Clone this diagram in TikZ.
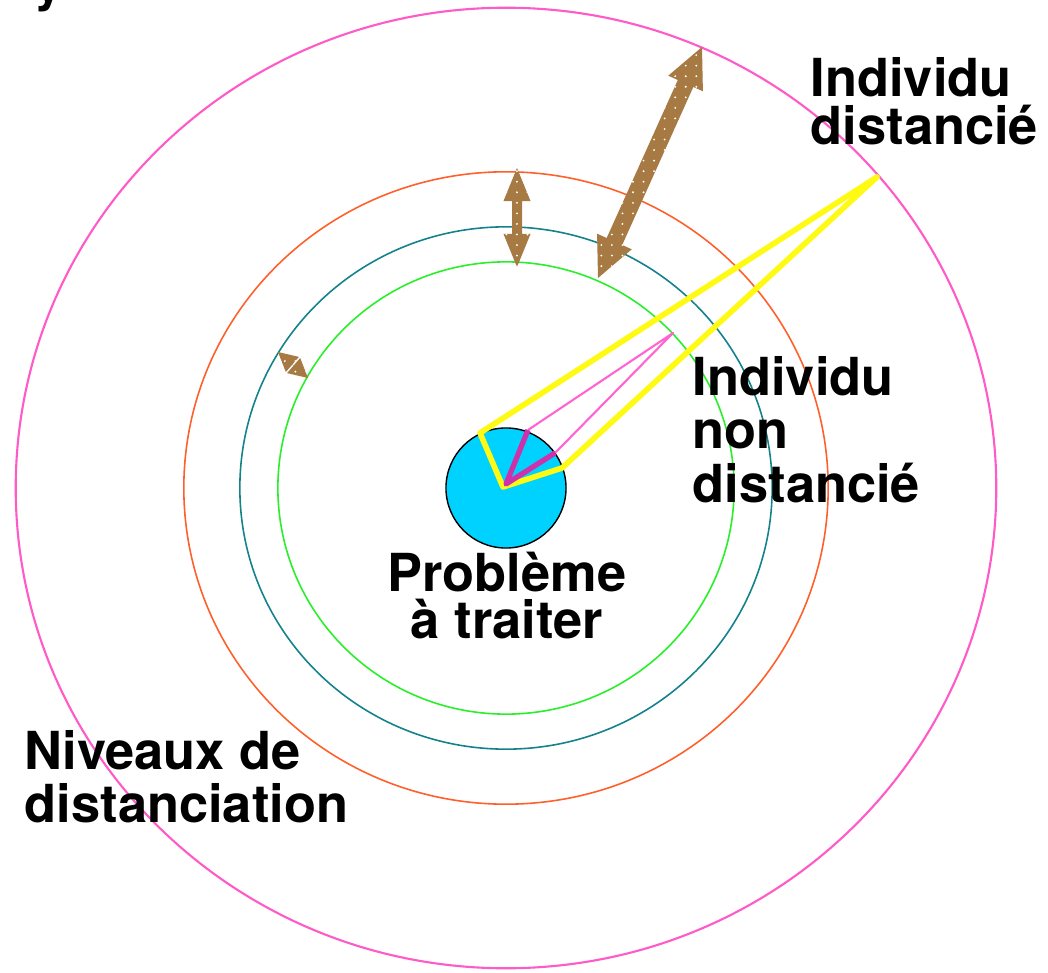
\documentclass[tikz,border=0pt]{standalone}
\usepackage{fontspec}
\setmainfont{TeX Gyre Heros}
\usepackage{xcolor}
\usetikzlibrary{calc, patterns.meta}

\definecolor{ringpink}{RGB}{255,90,200}
\definecolor{ringorange}{RGB}{255,95,40}
\definecolor{ringteal}{RGB}{20,130,140}
\definecolor{ringgreen}{RGB}{40,240,40}
\definecolor{probcyan}{RGB}{0,210,255}
\definecolor{armbrown}{RGB}{166,122,66}
\definecolor{linkyellow}{RGB}{255,250,20}
\definecolor{linkpink}{RGB}{255,100,210}
\definecolor{linkmagenta}{RGB}{205,50,170}

% double-headed flat arrow: from, to, head length, half head width, half shaft width
\newcommand{\dblarrow}[5]{%
  \fill[armfill] (#1) -- ($(#1)!#3!(#2)!#4!90:(#2)$) -- ($(#1)!#3!(#2)!#5!90:(#2)$)
    -- ($(#2)!#3!(#1)!#5!-90:(#1)$) -- ($(#2)!#3!(#1)!#4!-90:(#1)$) -- (#2)
    -- ($(#2)!#3!(#1)!#4!90:(#1)$) -- ($(#2)!#3!(#1)!#5!90:(#1)$)
    -- ($(#1)!#3!(#2)!#5!-90:(#2)$) -- ($(#1)!#3!(#2)!#4!-90:(#2)$) -- cycle;}

\begin{document}
\begin{tikzpicture}[
    x=0.01cm, y=-0.01cm,
    ring/.style={line width=0.45pt},
    lbl/.style={font=\fontsize{14.9pt}{13.7pt}\selectfont\bfseries, inner sep=0pt, align=left},
    armfill/.style={fill=armbrown, postaction={pattern={Dots[radius=0.3pt, distance=3pt]}, pattern color=white}},
    farlink/.style={linkyellow, line width=1.6pt, line join=round},
    nearlink/.style={linkpink, line width=0.6pt, line join=round},
    nearbase/.style={linkmagenta, line width=1.5pt, line join=round}
]

\useasboundingbox (0,0) rectangle (1048,973);
\fill[white] (0,0) rectangle (1048,973);

% cut title letter
\node[lbl, anchor=base west] (titley) at (34,1) {y};

% Levels of distancing
\coordinate (ctr) at (506,488);
\draw[ring, ringpink, line width=0.6pt] (ctr) ellipse [x radius=4.90cm, y radius=4.80cm];
\draw[ring, ringorange] (ctr) ellipse [x radius=3.22cm, y radius=3.16cm];
\draw[ring, ringteal] (ctr) ellipse [x radius=2.66cm, y radius=2.61cm];
\draw[ring, ringgreen] (ctr) ellipse [x radius=2.28cm, y radius=2.26cm];

% Problem
\node[circle, draw=black, line width=0.4pt, fill=probcyan, minimum size=1.2cm, inner sep=0pt] (prob) at (ctr) {};

% Distance arrows
\coordinate (bigA) at (598,278);
\coordinate (bigB) at (702,47);
\dblarrow{bigA}{bigB}{0.40cm}{0.19cm}{0.085cm}
\coordinate (midA) at (517,168);
\coordinate (midB) at (517,267);
\dblarrow{midA}{midB}{0.33cm}{0.135cm}{0.05cm}
\coordinate (smallA) at (278,352);
\coordinate (smallB) at (308,378);
\dblarrow{smallA}{smallB}{0.19cm}{0.1cm}{0cm}

% Distanced individual
\coordinate (farTip) at (877,177);
\coordinate (farL) at (480,433);
\coordinate (farV) at (503,487);
\coordinate (farR) at (562,468);
\draw[farlink] (farTip) -- (farL) -- (farV) -- (farR) -- cycle;

% Non distanced individual
\coordinate (nearTip) at (673,333);
\coordinate (nearL) at (528,430);
\coordinate (nearR) at (555,453);
\coordinate (nearV) at (506,484);
\draw[nearlink] (nearL) -- (nearTip) -- (nearR);
\draw[nearbase] (nearL) -- (nearV) -- (nearR);

% Labels (base = last line)
\node[lbl, anchor=base west] (distlbl) at (810,145) {Individu\\distancié};
\node[lbl, anchor=base west, font=\fontsize{14.9pt}{15.1pt}\selectfont\bfseries] (nondistlbl) at (692,502) {Individu\\non\\distancié};
\node[lbl, anchor=base, align=center, font=\fontsize{14.9pt}{13.1pt}\selectfont\bfseries] (problbl) at (507,638) {Problème\\à traiter};
\node[lbl, anchor=base west, font=\fontsize{14.9pt}{14.8pt}\selectfont\bfseries] (levellbl) at (24,822) {Niveaux de\\distanciation};

\end{tikzpicture}
\end{document}
